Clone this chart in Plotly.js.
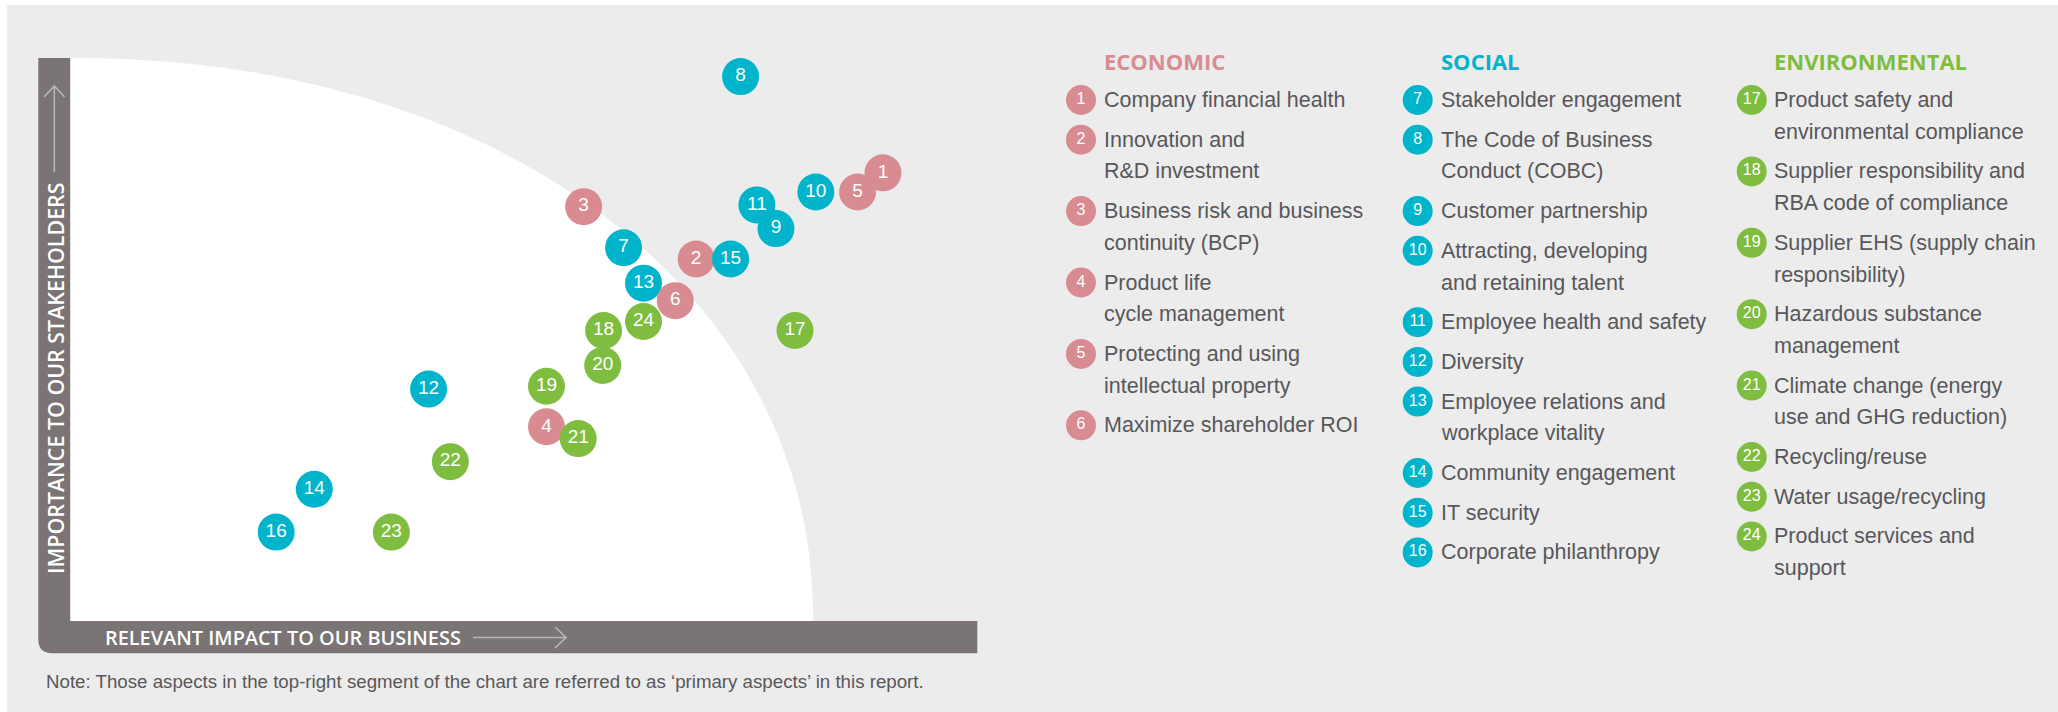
<!DOCTYPE html>
<html>
<head>
<meta charset="utf-8">
<script src="https://cdn.plot.ly/plotly-3.0.1.min.js"></script>
<style>
  html, body { margin: 0; padding: 0; background: #fff; }
  #chart { width: 2058px; height: 712px; }
</style>
</head>
<body>
<div id="chart"></div>
<script>
// Materiality matrix - aspect number, group, impact to business (x), importance to stakeholders (y)
var aspectNo = [1, 2, 3, 4, 5, 6, 7, 8, 9, 10, 11, 12, 13, 14, 15, 16, 17, 18, 19, 20, 21, 22, 23, 24];
var aspectGroup = ['economic', 'economic', 'economic', 'economic', 'economic', 'economic',
  'social', 'social', 'social', 'social', 'social', 'social', 'social', 'social', 'social', 'social',
  'environmental', 'environmental', 'environmental', 'environmental', 'environmental', 'environmental', 'environmental', 'environmental'];
var aspectName = [
  'Company financial health',
  'Innovation and\nR&D investment',
  'Business risk and business\ncontinuity (BCP)',
  'Product life\ncycle management',
  'Protecting and using\nintellectual property',
  'Maximize shareholder ROI',
  'Stakeholder engagement',
  'The Code of Business\nConduct (COBC)',
  'Customer partnership',
  'Attracting, developing\nand retaining talent',
  'Employee health and safety',
  'Diversity',
  'Employee relations and\nworkplace vitality',
  'Community engagement',
  'IT security',
  'Corporate philanthropy',
  'Product safety and\nenvironmental compliance',
  'Supplier responsibility and\nRBA code of compliance',
  'Supplier EHS (supply chain\nresponsibility)',
  'Hazardous substance\nmanagement',
  'Climate change (energy\nuse and GHG reduction)',
  'Recycling/reuse',
  'Water usage/recycling',
  'Product services and\nsupport'
];
var businessImpact = [89.6, 69.0, 56.6, 52.5, 86.8, 66.7, 61.0, 73.9, 77.8, 82.2, 75.7, 39.5,
  63.2, 26.9, 72.8, 22.7, 79.9, 58.8, 52.5, 58.7, 56.0, 41.9, 35.4, 63.2];
var stakeholderImportance = [79.6, 64.3, 73.6, 34.5, 76.2, 56.9, 66.3, 96.7, 69.7, 76.2, 73.9, 41.2,
  60.0, 23.4, 64.3, 15.8, 51.6, 51.6, 41.7, 45.4, 32.4, 28.3, 15.8, 53.2];

var groups = ['economic', 'social', 'environmental'];
var groupTitles = ['ECONOMIC', 'SOCIAL', 'ENVIRONMENTAL'];
var groupColor = { economic: '#d98b92', social: '#00b5cb', environmental: '#7fbd40' };

var W = 2058, H = 712;
function px(x) { return x / W; }
function py(y) { return 1 - y / H; }
function pathPx(pts) {
  return pts.map(function (p) {
    return (p[0] === 'M' || p[0] === 'L') ? p[0] + ' ' + px(p[1]) + ',' + py(p[2]) : p;
  }).join(' ');
}

// draw higher bubbles first so lower ones sit on top where they touch
var order = aspectNo.map(function (d, i) { return i; });
order.sort(function (a, b) {
  return (stakeholderImportance[b] - stakeholderImportance[a]) || (businessImpact[a] - businessImpact[b]);
});

var bubbles = {
  x: order.map(function (i) { return businessImpact[i]; }),
  y: order.map(function (i) { return stakeholderImportance[i]; }),
  text: order.map(function (i) { return String(aspectNo[i]); }),
  type: 'scatter',
  mode: 'markers+text',
  textposition: 'middle center',
  cliponaxis: false,
  hoverinfo: 'none',
  textfont: { family: 'Liberation Sans, Arial, sans-serif', size: 19, color: '#ffffff' },
  marker: {
    size: 37,
    color: order.map(function (i) { return groupColor[aspectGroup[i]]; }),
    line: { width: 0 }
  },
  showlegend: false
};

// legend columns, laid out in pixel coords on x2/y2
var colCircleX = [1081, 1417.7, 1751.7];
var colTextX = [1104, 1440.5, 1774.3];
var legendTop = 100, lineStep = 31.7, itemGap = 39.7;

var legX = [], legY = [], legText = [], legColor = [];
var annotations = [];

groups.forEach(function (g, c) {
  annotations.push({
    xref: 'x2', yref: 'y2', x: colTextX[c] - 2, y: 60.7,
    xanchor: 'left', yanchor: 'middle', showarrow: false,
    text: '<b>' + groupTitles[c] + '</b>',
    font: { family: 'Open Sans, sans-serif', size: 22, color: groupColor[g] }
  });
  var y = legendTop;
  aspectNo.forEach(function (n, i) {
    if (aspectGroup[i] !== g) return;
    legX.push(colCircleX[c]);
    legY.push(y);
    legText.push(String(n));
    legColor.push(groupColor[g]);
    var lines = aspectName[i].split('\n');
    lines.forEach(function (ln, k) {
      annotations.push({
        xref: 'x2', yref: 'y2', x: colTextX[c] - 2, y: y + k * lineStep,
        xanchor: 'left', yanchor: 'middle', showarrow: false,
        text: ln.replace(/&/g, '&amp;'),
        font: { family: 'Liberation Sans, Arial, sans-serif', size: 21.5, color: '#58575a' }
      });
    });
    y += (lines.length - 1) * lineStep + itemGap;
  });
});

var legendDots = {
  x: legX, y: legY, text: legText,
  xaxis: 'x2', yaxis: 'y2',
  type: 'scatter',
  mode: 'markers+text',
  textposition: 'middle center',
  cliponaxis: false,
  hoverinfo: 'none',
  textfont: { family: 'Liberation Sans, Arial, sans-serif', size: 16, color: '#ffffff' },
  marker: { size: 30, color: legColor, line: { width: 0 } },
  showlegend: false
};

// axis labels and note
annotations.push({
  xref: 'paper', yref: 'paper', x: px(55.5), y: py(378.5), textangle: -90,
  xanchor: 'center', yanchor: 'middle', showarrow: false,
  text: 'IMPORTANCE TO OUR STAKEHOLDERS',
  font: { family: 'Open Sans, sans-serif', size: 21.4, weight: 600, color: '#ffffff' }
});
annotations.push({
  xref: 'paper', yref: 'paper', x: px(103), y: py(637.5),
  xanchor: 'left', yanchor: 'middle', showarrow: false,
  text: 'RELEVANT IMPACT TO OUR BUSINESS',
  font: { family: 'Open Sans, sans-serif', size: 19.9, weight: 600, color: '#ffffff' }
});
annotations.push({
  xref: 'paper', yref: 'paper', x: px(44), y: py(681.5),
  xanchor: 'left', yanchor: 'middle', showarrow: false,
  text: 'Note: Those aspects in the top-right segment of the chart are referred to as \u2018primary aspects\u2019 in this report.',
  font: { family: 'Liberation Sans, Arial, sans-serif', size: 18.7, color: '#58575a' }
});

// white "non-primary" zone: rounded quarter (superellipse) from the origin
var zoneA = 81.9, zoneB = 100, zoneN = 2.1;
var zonePath = 'M 0,0 L 0,' + zoneB;
for (var k = 90; k >= 0; k--) {
  var t = k / 90 * Math.PI / 2;
  var zx = zoneA * Math.pow(Math.cos(t), 2 / zoneN);
  var zy = zoneB * Math.pow(Math.sin(t), 2 / zoneN);
  zonePath += ' L ' + zx.toFixed(3) + ',' + zy.toFixed(3);
}
zonePath += ' Z';

var barPath = pathPx([['M', 38.3, 58], ['L', 70.3, 58], ['L', 70.3, 621], ['L', 977.3, 621],
  ['L', 977.3, 653.3], ['L', 52, 653.3]]) +
  ' Q ' + px(38.3) + ',' + py(653.3) + ' ' + px(38.3) + ',' + py(639.6) + ' Z';

var arrowColor = '#b9b5b6';
var shapes = [
  { type: 'rect', xref: 'paper', yref: 'paper', x0: px(7), x1: px(W), y0: py(5), y1: py(H),
    fillcolor: '#ececec', line: { width: 0 }, layer: 'below' },
  { type: 'path', xref: 'paper', yref: 'paper', path: barPath,
    fillcolor: '#7a7475', line: { width: 0 }, layer: 'below' },
  { type: 'path', xref: 'paper', yref: 'paper',
    path: pathPx([['M', 54.3, 172], ['L', 54.3, 86], ['M', 44, 97], ['L', 54.3, 86], ['L', 64.6, 97]]),
    line: { color: arrowColor, width: 1.6 }, layer: 'below' },
  { type: 'path', xref: 'paper', yref: 'paper',
    path: pathPx([['M', 473, 637.5], ['L', 566, 637.5], ['M', 555, 627], ['L', 566, 637.5], ['L', 555, 648]]),
    line: { color: arrowColor, width: 1.6 }, layer: 'below' },
  { type: 'path', xref: 'x', yref: 'y', path: zonePath,
    fillcolor: '#ffffff', line: { width: 0 }, layer: 'below' }
];

var layout = {
  width: W,
  height: H,
  margin: { l: 0, r: 0, t: 0, b: 0, pad: 0 },
  paper_bgcolor: '#ffffff',
  plot_bgcolor: 'rgba(0,0,0,0)',
  showlegend: false,
  xaxis: { domain: [px(70.3), px(977.3)], range: [0, 100], visible: false, fixedrange: true },
  yaxis: { domain: [py(621), py(58)], range: [0, 100], visible: false, fixedrange: true },
  xaxis2: { domain: [0, 1], range: [0, W], visible: false, anchor: 'y2', fixedrange: true },
  yaxis2: { domain: [0, 1], range: [H, 0], visible: false, anchor: 'x2', fixedrange: true },
  shapes: shapes,
  annotations: annotations
};

Plotly.newPlot('chart', [bubbles, legendDots], layout, { displayModeBar: false, staticPlot: true });
</script>
</body>
</html>
